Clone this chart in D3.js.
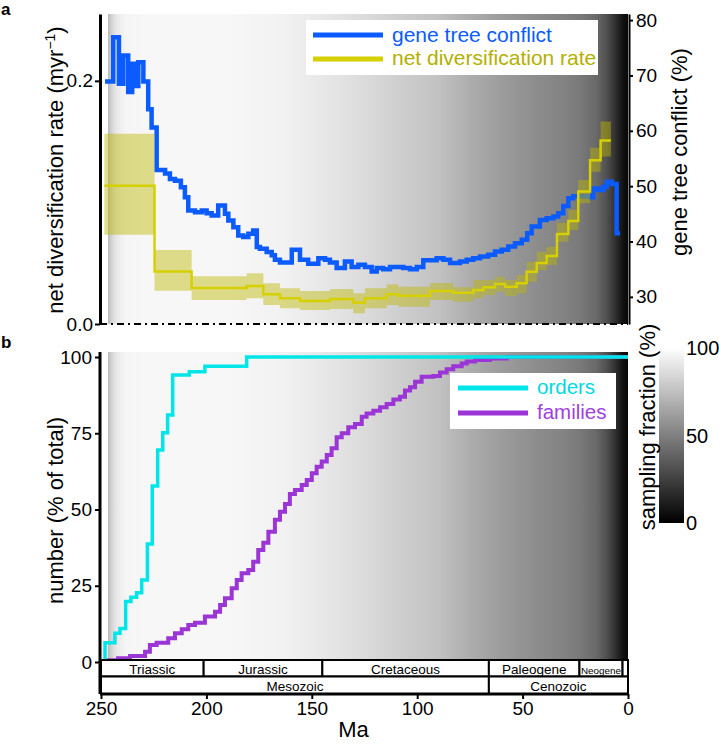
<!DOCTYPE html>
<html>
<head>
<meta charset="utf-8">
<script src="https://cdn.jsdelivr.net/npm/d3@7"></script>
<style>
  body { margin: 0; background: #fff; }
  svg { font-family: "Liberation Sans", Arial, sans-serif; }
</style>
</head>
<body>
<svg id="chart" width="719" height="744"></svg>
<script>
// ---- data ----
const ageTicks = [250, 200, 150, 100, 50, 0];
const rateTicks = [0, 0.2];
const conflictTicks = [30, 40, 50, 60, 70, 80];
const numberTicks = [0, 25, 50, 75, 100];
const samplingTicks = [0, 50, 100];

// background: sampling fraction through time
const samplingAge = [246.7, 245.5, 244, 242, 238, 230, 190, 165, 145, 125, 105, 90, 75, 60, 46, 30, 22, 15, 10, 7, 4, 2, 0];
const samplingFraction = [0.72, 0.80, 0.87, 0.92, 0.96, 0.97, 0.97, 0.95, 0.91, 0.86, 0.80, 0.76, 0.68, 0.61, 0.56, 0.51, 0.47, 0.41, 0.31, 0.22, 0.12, 0.06, 0.03];

// gene tree conflict (%), step values
const conflictAge = [248.1, 244.2, 241.5, 239.4, 237.1, 235.2, 233.9, 232.3, 229.9, 227.6, 226.0, 223.6, 219.6, 217.3, 214.9, 212.1, 210.2, 208.6, 205.4, 202.2, 199.9, 197.5, 194.4, 191.2, 189.6, 187.2, 184.9, 182.5, 180.1, 177.8, 176.1, 174.6, 171.4, 169.0, 167.5, 165.1, 159.5, 155.6, 151.7, 146.9, 143.7, 141.4, 138.2, 134.3, 131.1, 127.9, 124.8, 121.6, 119.2, 116.1, 112.9, 106.6, 103.4, 100.2, 97.1, 90.8, 87.6, 84.4, 79.7, 76.5, 73.4, 70.2, 66.3, 63.1, 59.9, 56.8, 53.6, 50.4, 47.8, 45.7, 41.8, 38.6, 35.4, 33.1, 30.7, 28.3, 26.0, 18.0, 16.5, 14.1, 11.7, 10.1, 7.7, 5.4, 3.8];
const conflictPct = [68.9, 76.9, 68.5, 73.6, 67.0, 72.1, 68.1, 72.4, 68.9, 63.9, 60.6, 52.9, 52.3, 51.3, 51.0, 49.8, 48.0, 45.6, 45.3, 45.6, 45.1, 44.7, 46.5, 45.0, 43.8, 42.6, 41.1, 40.8, 41.4, 42.0, 39.0, 38.7, 38.1, 37.5, 36.7, 36.2, 38.5, 36.7, 36.0, 37.0, 36.7, 36.2, 35.2, 36.4, 35.4, 35.8, 35.4, 34.6, 35.2, 35.0, 35.4, 35.2, 35.0, 35.4, 36.6, 37.0, 36.7, 36.1, 36.4, 36.7, 37.0, 37.3, 37.6, 38.2, 38.5, 39.1, 39.7, 40.3, 41.5, 42.7, 43.9, 44.2, 44.5, 45.1, 46.4, 47.8, 48.2, 48.0, 49.6, 49.3, 49.9, 50.8, 50.4, 41.5, 41.5];

// net diversification rate (myr-1) with interval
const divAge = [248.4, 224.6, 207.0, 180.9, 173.0, 165.1, 155.6, 141.4, 130.3, 124.8, 114.5, 109.0, 93.9, 82.9, 73.4, 68.6, 63.1, 58.3, 52.8, 48.1, 43.3, 38.6, 33.7, 28.3, 23.6, 18.0, 13.0, 8.1];
const divRate = [0.1138, 0.0432, 0.0296, 0.0313, 0.0244, 0.0212, 0.0189, 0.0206, 0.0175, 0.0212, 0.0244, 0.0233, 0.0272, 0.0258, 0.0280, 0.0302, 0.0329, 0.0307, 0.0335, 0.0430, 0.0502, 0.0560, 0.0741, 0.0848, 0.1089, 0.1346, 0.1510, 0.1510];
const divLower = [0.0735, 0.0274, 0.0198, 0.0212, 0.0156, 0.0129, 0.0115, 0.0123, 0.0088, 0.0129, 0.0156, 0.0142, 0.0198, 0.0184, 0.0212, 0.0239, 0.0266, 0.0230, 0.0253, 0.0348, 0.0444, 0.0486, 0.0677, 0.0774, 0.0993, 0.1253, 0.1377, 0.1377];
const divUpper = [0.1564, 0.0609, 0.0393, 0.0417, 0.0335, 0.0294, 0.0272, 0.0288, 0.0253, 0.0294, 0.0327, 0.0307, 0.0337, 0.0302, 0.0362, 0.0362, 0.0389, 0.0362, 0.0403, 0.0513, 0.0595, 0.0636, 0.0831, 0.0938, 0.1185, 0.1449, 0.1665, 0.1665];

// cumulative number (% of total)
const orderAge = [248.1, 248.1, 243.4, 241.0, 238.3, 235.8, 233.1, 230.7, 228.0, 225.7, 223.1, 220.7, 218.4, 216.0, 208.1, 200.7, 180.9, 0];
const orderPct = [0, 6.3, 9.4, 11.0, 19.8, 21.2, 22.7, 26.9, 38.7, 57.7, 69.5, 75.2, 81.0, 94.1, 95.2, 97.0, 100, 100];
const famAge = [247.3, 241.9, 236.2, 229.1, 226.8, 223.6, 218.1, 214.9, 211.7, 208.6, 205.4, 200.7, 195.9, 193.5, 191.2, 188.0, 185.6, 183.3, 180.1, 177.8, 175.4, 173.0, 170.6, 167.5, 165.1, 162.7, 160.4, 158.0, 154.8, 152.4, 150.0, 147.7, 145.3, 142.9, 140.6, 138.2, 135.8, 132.7, 129.5, 126.3, 124.0, 120.8, 117.6, 114.5, 111.3, 108.2, 105.8, 103.4, 101.0, 97.9, 92.4, 89.2, 86.0, 82.9, 78.9, 76.5, 72.6, 65.5, 57.5, 0];
const famPct = [0.6, 1.2, 2.0, 3.4, 5.6, 6.3, 7.8, 9.4, 10.7, 12.1, 12.9, 14.9, 16.5, 18.7, 20.9, 24.2, 26.9, 29.1, 30.2, 32.9, 36.7, 39.1, 42.7, 46.6, 49.3, 51.8, 55.1, 56.4, 58.0, 59.7, 61.9, 64.0, 65.7, 67.9, 70.1, 73.7, 75.0, 77.0, 78.0, 80.4, 81.5, 82.4, 83.5, 84.6, 86.1, 87.0, 89.0, 90.1, 91.9, 93.5, 93.8, 94.9, 96.0, 97.0, 97.9, 98.5, 99.0, 99.5, 100, 100];

// geological time scale
const periodName = ["Triassic", "Jurassic", "Cretaceous", "Paleogene", "Neogene", ""];
const periodStart = [252, 201.3, 145, 66, 23.03, 2.58];
const periodEnd = [201.3, 145, 66, 23.03, 2.58, 0];
const eraName = ["Mesozoic", "Cenozoic"];
const eraStart = [252, 66];
const eraEnd = [66, 0];

// ---- colours ----
const blue = "#0b5bff", yellow = "#d6d000", yellowText = "#b3b000", band = "#bdb600";
const cyan = "#00e6e8", purple = "#9b35d6";

const svg = d3.select("#chart");

// scales
const x = d3.scaleLinear().domain([250, 0]).range([101, 628]);
const yRate = d3.scaleLinear().domain([0, 0.255]).range([324, 14]);
const yConf = d3.scaleLinear().domain([25.1, 81.1]).range([324, 14]);
const yNum = d3.scaleLinear().domain([0, 100]).range([662, 357]);
const ySamp = d3.scaleLinear().domain([0, 100]).range([523, 348]);
const gray = f => d3.rgb(255 * f, 255 * f, 255 * f).formatHex();

// gradients
const defs = svg.append("defs");
const gx0 = x(samplingAge[0]), gx1 = x(0);
defs.append("linearGradient")
    .attr("id", "sampling")
    .attr("gradientUnits", "userSpaceOnUse")
    .attr("x1", gx0).attr("x2", gx1).attr("y1", 0).attr("y2", 0)
    .selectAll("stop")
    .data(samplingAge)
    .join("stop")
    .attr("offset", d => (x(d) - gx0) / (gx1 - gx0))
    .attr("stop-color", (d, i) => gray(samplingFraction[i]));
defs.append("linearGradient")
    .attr("id", "colorbar")
    .attr("gradientUnits", "userSpaceOnUse")
    .attr("x1", 0).attr("x2", 0).attr("y1", ySamp(100)).attr("y2", ySamp(0))
    .selectAll("stop")
    .data([100, 0])
    .join("stop")
    .attr("offset", d => (ySamp(100) - ySamp(d)) / (ySamp(100) - ySamp(0)))
    .attr("stop-color", d => gray(d / 100));

function styleAxis(g, size) {
    g.attr("font-size", null).attr("font-family", null);
    g.select(".domain").attr("stroke-width", 3);
    g.selectAll(".tick line").attr("stroke-width", 2);
    g.selectAll(".tick text").style("font-size", size + "px").attr("fill", "#000");
}

// ================= panel a =================
const gA = svg.append("g");
gA.append("rect")
    .attr("x", gx0).attr("y", yRate.range()[1])
    .attr("width", gx1 - gx0).attr("height", yRate.range()[0] - yRate.range()[1])
    .attr("fill", "url(#sampling)");

const conflictData = conflictAge.map((a, i) => [a, conflictPct[i]]);
const divData = divAge.map((a, i) => ({age: a, rate: divRate[i], lo: divLower[i], hi: divUpper[i]}));

gA.append("path")
    .datum(conflictData)
    .attr("fill", "none")
    .attr("stroke", blue)
    .attr("stroke-width", 4.5)
    .attr("d", d3.line().x(d => x(d[0])).y(d => yConf(d[1])).curve(d3.curveStepAfter));

gA.append("path")
    .datum(divData)
    .attr("fill", band)
    .attr("fill-opacity", 0.45)
    .attr("d", d3.area().x(d => x(d.age)).y0(d => yRate(d.lo)).y1(d => yRate(d.hi)).curve(d3.curveStepAfter));

gA.append("path")
    .datum(divData)
    .attr("fill", "none")
    .attr("stroke", yellow)
    .attr("stroke-width", 2.5)
    .attr("d", d3.line().x(d => x(d.age)).y(d => yRate(d.rate)).curve(d3.curveStepAfter));

// dash-dot baseline
gA.append("line")
    .attr("x1", 100).attr("x2", x(0))
    .attr("y1", yRate(0)).attr("y2", yRate(0))
    .attr("stroke", "#000").attr("stroke-width", 2)
    .attr("stroke-dasharray", "7,4,2,4");

const axA = gA.append("g")
    .attr("transform", "translate(100,0)")
    .call(d3.axisLeft(yRate).tickValues(rateTicks).tickFormat(d3.format(".1f")).tickSize(5).tickSizeOuter(0).tickPadding(2));
styleAxis(axA, 19);

const axR = gA.append("g")
    .attr("transform", "translate(629,0)")
    .call(d3.axisRight(yConf).tickValues(conflictTicks).tickSize(4).tickSizeOuter(0).tickPadding(3));
styleAxis(axR, 19);
axR.select(".domain").attr("stroke-width", 2);

gA.append("text")
    .attr("transform", `translate(63,${(yRate.range()[0] + yRate.range()[1]) / 2 + 1}) rotate(-90)`)
    .attr("text-anchor", "middle")
    .style("font-size", "22px")
    .call(t => {
        t.append("tspan").text("net diversification rate (myr");
        t.append("tspan").attr("dy", -8).style("font-size", "14px").text("\u22121");
        t.append("tspan").attr("dy", 8).text(")");
    });

gA.append("text")
    .attr("transform", "translate(687,152) rotate(-90)")
    .attr("text-anchor", "middle")
    .style("font-size", "22px")
    .text("gene tree conflict (%)");

// legend a
const legA = gA.append("g");
legA.append("rect").attr("x", 306).attr("y", 20).attr("width", 292).attr("height", 55).attr("fill", "#fff");
legA.selectAll("line")
    .data([{c: blue, y: 35}, {c: yellow, y: 59}])
    .join("line")
    .attr("x1", 313).attr("x2", 383)
    .attr("y1", d => d.y).attr("y2", d => d.y)
    .attr("stroke", d => d.c).attr("stroke-width", 5);
legA.selectAll("text")
    .data([{t: "gene tree conflict", c: blue, y: 41.5}, {t: "net diversification rate", c: yellowText, y: 65}])
    .join("text")
    .attr("x", 392).attr("y", d => d.y)
    .attr("fill", d => d.c)
    .style("font-size", "21px")
    .text(d => d.t);

svg.append("text").attr("x", 1).attr("y", 15).style("font-size", "17px").style("font-weight", "bold").text("a");

// ================= panel b =================
const gB = svg.append("g");
const bTop = 352, bBottom = 660, scaleMid = 676.5, axisY = 694;
gB.append("rect")
    .attr("x", gx0).attr("y", bTop)
    .attr("width", gx1 - gx0).attr("height", bBottom - bTop)
    .attr("fill", "url(#sampling)");

gB.append("path")
    .datum(famAge.map((a, i) => [a, famPct[i]]))
    .attr("fill", "none")
    .attr("stroke", purple)
    .attr("stroke-width", 4)
    .attr("d", d3.line().x(d => x(d[0])).y(d => yNum(d[1])).curve(d3.curveStepAfter));

gB.append("path")
    .datum(orderAge.map((a, i) => [a, orderPct[i]]))
    .attr("fill", "none")
    .attr("stroke", cyan)
    .attr("stroke-width", 3.5)
    .attr("d", d3.line().x(d => x(d[0])).y(d => yNum(d[1])).curve(d3.curveStepAfter));

// time scale boxes
const clampAge = a => Math.min(a, 250);
const periods = periodName.map((n, i) => ({name: n, s: clampAge(periodStart[i]), e: periodEnd[i]}));
const eras = eraName.map((n, i) => ({name: n, s: clampAge(eraStart[i]), e: eraEnd[i]}));

function drawScaleRow(data, y0, y1, size) {
    const row = gB.append("g");
    row.selectAll("rect")
        .data(data)
        .join("rect")
        .attr("x", d => x(d.s)).attr("y", y0)
        .attr("width", d => x(d.e) - x(d.s)).attr("height", y1 - y0)
        .attr("fill", "#fff").attr("stroke", "#000").attr("stroke-width", 2);
    row.selectAll("text")
        .data(data)
        .join("text")
        .attr("x", d => (x(d.s) + x(d.e)) / 2)
        .attr("y", y1 - 3)
        .attr("text-anchor", "middle")
        .style("font-size", size + "px")
        .text(d => d.name)
        .each(function(d) {
            const w = x(d.e) - x(d.s) - 3;
            const len = this.getComputedTextLength();
            if (len > w) d3.select(this).style("font-size", (size * w / len) + "px");
        });
}
drawScaleRow(periods, bBottom, scaleMid, 13.5);
drawScaleRow(eras, scaleMid, axisY, 13.5);

// left axis b
gB.append("line").attr("x1", 100).attr("x2", 100).attr("y1", bTop).attr("y2", axisY)
    .attr("stroke", "#000").attr("stroke-width", 3);
const axB = gB.append("g")
    .attr("transform", "translate(100,0)")
    .call(d3.axisLeft(yNum).tickValues(numberTicks).tickSize(5).tickPadding(3));
axB.select(".domain").remove();
styleAxis(axB, 19);

// bottom axis
const axX = gB.append("g")
    .attr("transform", `translate(0,${axisY})`)
    .call(d3.axisBottom(x).tickValues(ageTicks).tickSize(5).tickSizeOuter(0).tickPadding(3));
styleAxis(axX, 19);
axX.select(".domain").attr("d", `M100,0H${x(0)}`);

gB.append("text")
    .attr("transform", `translate(63,${(yNum(0) + yNum(100)) / 2 + 1}) rotate(-90)`)
    .attr("text-anchor", "middle")
    .style("font-size", "22px")
    .text("number (% of total)");
gB.append("text")
    .attr("x", (x(250) + x(0)) / 2 - 11).attr("y", 737)
    .attr("text-anchor", "middle")
    .style("font-size", "22px")
    .text("Ma");

// legend b
const legB = gB.append("g");
legB.append("rect").attr("x", 450).attr("y", 373).attr("width", 166).attr("height", 56).attr("fill", "#fff");
legB.selectAll("line")
    .data([{c: cyan, y: 388}, {c: purple, y: 413}])
    .join("line")
    .attr("x1", 458).attr("x2", 528)
    .attr("y1", d => d.y).attr("y2", d => d.y)
    .attr("stroke", d => d.c).attr("stroke-width", 5);
legB.selectAll("text")
    .data([{t: "orders", c: "#00d9e2", y: 393.5}, {t: "families", c: "#a040dd", y: 418.5}])
    .join("text")
    .attr("x", 537).attr("y", d => d.y)
    .attr("fill", d => d.c)
    .style("font-size", "20.5px")
    .text(d => d.t);

// colour bar
gB.append("rect")
    .attr("x", 659).attr("y", ySamp(100))
    .attr("width", 25).attr("height", ySamp(0) - ySamp(100))
    .attr("fill", "url(#colorbar)");
gB.selectAll("text.cb")
    .data(samplingTicks)
    .join("text")
    .attr("class", "cb")
    .attr("x", 686)
    .attr("y", d => ySamp(d) + 7)
    .style("font-size", "20px")
    .text(d => d);
gB.append("text")
    .attr("transform", "translate(655,427) rotate(-90)")
    .attr("text-anchor", "middle")
    .style("font-size", "22px")
    .text("sampling fraction (%)");

svg.append("text").attr("x", 1).attr("y", 348).style("font-size", "17px").style("font-weight", "bold").text("b");
</script>
</body>
</html>
